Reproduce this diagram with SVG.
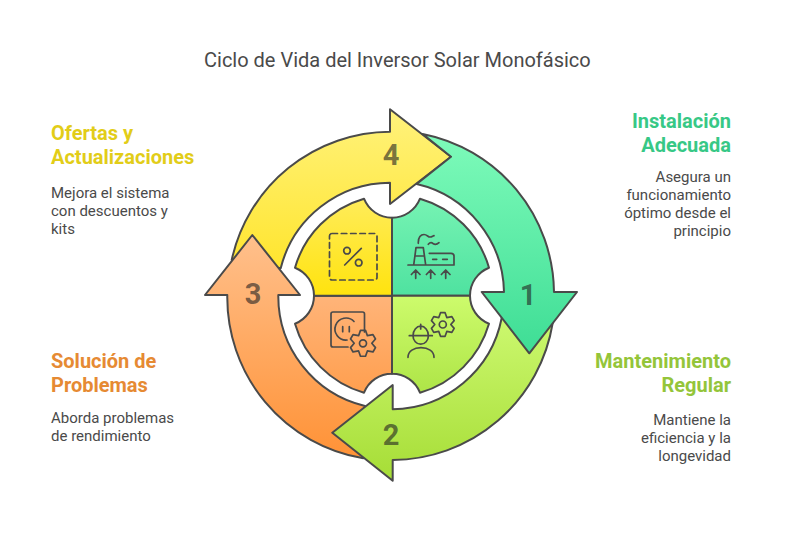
<svg xmlns="http://www.w3.org/2000/svg" width="794" height="542" viewBox="0 0 794 542">
<style>
text{font-family:Roboto,"Liberation Sans",sans-serif}
.title{font-size:20px;fill:#4a4a4a}
.h{font-size:20px;font-weight:700}
.b{font-size:15px;fill:#4a4a4a}
.e{text-anchor:end}
.n{font-size:29px;font-weight:700;fill:#222;fill-opacity:.62;text-anchor:middle}
.s{stroke:#4a4a4a;stroke-width:2;stroke-linejoin:round}
.i{fill:none;stroke:#4a4a4a;stroke-width:1.7;stroke-linecap:round;stroke-linejoin:round}
</style>
<defs>
<linearGradient id="a1" x1="0" y1="0" x2="0" y2="1"><stop offset="0" stop-color="#7efbba"/><stop offset="1" stop-color="#3edd95"/></linearGradient>
<linearGradient id="a2" x1="0" y1="0" x2="0" y2="1"><stop offset="0" stop-color="#ccf86f"/><stop offset="1" stop-color="#a6dd36"/></linearGradient>
<linearGradient id="a3" x1="0" y1="0" x2="0" y2="1"><stop offset="0" stop-color="#ffc08c"/><stop offset="1" stop-color="#ff9236"/></linearGradient>
<linearGradient id="a4" x1="0" y1="0" x2="0" y2="1"><stop offset="0" stop-color="#fff27c"/><stop offset="1" stop-color="#ffe52e"/></linearGradient>
<linearGradient id="q1" x1="0" y1="0" x2="0" y2="1"><stop offset="0" stop-color="#76f3b3"/><stop offset="1" stop-color="#4fe2a0"/></linearGradient>
<linearGradient id="q2" x1="0" y1="0" x2="0" y2="1"><stop offset="0" stop-color="#cdfb6c"/><stop offset="1" stop-color="#aee547"/></linearGradient>
<linearGradient id="q3" x1="0" y1="0" x2="0" y2="1"><stop offset="0" stop-color="#ffb479"/><stop offset="1" stop-color="#ff9f4f"/></linearGradient>
<linearGradient id="q4" x1="0" y1="0" x2="0" y2="1"><stop offset="0" stop-color="#ffec5a"/><stop offset="1" stop-color="#ffe30e"/></linearGradient>
<path id="gear" d="M-2.29,-11.78L2.29,-11.78L4,-6.93L9.06,-7.87L11.35,-3.91L8,0L11.35,3.91L9.06,7.87L4,6.93L2.29,11.78L-2.29,11.78L-4,6.93L-9.06,7.87L-11.35,3.91L-8,0L-11.35,-3.91L-9.06,-7.87L-4,-6.93Z"/>
</defs>
<text class="title" x="204" y="67">Ciclo de Vida del Inversor Solar Monofásico</text>
<g id="connectors">
<path id="arrow-4" class="s" fill="url(#a4)" d="M231.7,260A163,163 0 0 1 390,131.7V109.3L451,156.7L390,204V182.7A113,113 0 0 0 280.7,268.3Z"/>
<path id="arrow-3" class="s" fill="url(#a3)" d="M363.3,458.3A163,163 0 0 1 227.3,295H205L252.3,235L300,295H278.3A113,113 0 0 0 365,406Z"/>
<path id="arrow-2" class="s" fill="url(#a2)" d="M552.7,323A163,163 0 0 1 392.7,460V480.7L332.3,432.7L392.7,385V409.3A113,113 0 0 0 501.7,318Z"/>
<path id="arrow-1" class="s" fill="url(#a1)" d="M422.7,134A163,163 0 0 1 554,292H577L529.3,353.3L481.7,292H504A113,113 0 0 0 416.7,184L451,156.7Z"/>
</g>
<g id="node-1">
<path class="s" fill="url(#q1)" d="M392,295.7V217.7A30,30 0 0 0 420,198.7A101,101 0 0 1 489,267.7A30,30 0 0 0 470,295.7Z"/>
<path class="i" d="M408,265H453.3M413.7,265L416,247.7H423.3L425.7,265M415,256H424.5M429.3,253.3H451Q454,253.3 454,256V265M432.7,259.3H436.7M442.7,259.3H447.3M418.3,243.3C418,237 421,234.5 424,234.5C427,234.5 428,237 430,237C432,237 433,235.7 434,235.7M428.3,244.3C430,242.3 431.5,242.3 433,243.5C435,245 437,244.5 439,242.7M415.7,278.3V270M411.4,274.5L415.7,270L420,274.5M430.7,278.3V270M426.4,274.5L430.7,270L435,274.5M445.7,278.3V270M441.4,274.5L445.7,270L450,274.5"/>
<text class="n" x="528" y="305">1</text>
<text class="h e" x="731" y="128" fill="#37c886">Instalación</text>
<text class="h e" x="731" y="152" fill="#37c886">Adecuada</text>
<text class="b e" x="731" y="182">Asegura un</text>
<text class="b e" x="731" y="200">funcionamiento</text>
<text class="b e" x="731" y="218">óptimo desde el</text>
<text class="b e" x="731" y="236">principio</text>
</g>
<g id="node-2">
<path class="s" fill="url(#q2)" d="M392,295.7H470A30,30 0 0 0 489,323.7A101,101 0 0 1 420,392.7A30,30 0 0 0 392,373.7Z"/>
<path class="i" d="M409.3,335.7H432.3M413,335.7A7.7,9.5 0 0 1 428.4,335.7M413,335.7A7.7,8.5 0 0 0 428.4,335.7M420.7,324.3V329M408,357.3C408,351 414,347.7 421,347.7C428,347.7 434,351 434,357.3"/>
<use href="#gear" class="i" transform="translate(442.8,324.5)"/>
<circle class="i" cx="442.8" cy="324.5" r="3.5"/>
<text class="n" x="391" y="445">2</text>
<text class="h e" x="731" y="368" fill="#94c53a">Mantenimiento</text>
<text class="h e" x="731" y="392" fill="#94c53a">Regular</text>
<text class="b e" x="731" y="425">Mantiene la</text>
<text class="b e" x="731" y="443">eficiencia y la</text>
<text class="b e" x="731" y="461">longevidad</text>
</g>
<g id="node-3">
<path class="s" fill="url(#q3)" d="M392,295.7V373.7A30,30 0 0 0 364,392.7A101,101 0 0 1 295,323.7A30,30 0 0 0 314,295.7Z"/>
<path class="i" d="M348,347H333Q331,347 331,345V314Q331,312 333,312H362.5Q364.5,312 364.5,314V332M354,321.5A11,11 0 1 0 347,340M342.7,326.7V331.7M349.3,326.7V331.7"/>
<use href="#gear" class="i" transform="translate(363,343.3) scale(1.1)" style="stroke-width:1.55"/>
<circle class="i" cx="363" cy="343.3" r="3.5"/>
<text class="n" x="253" y="304">3</text>
<text class="h" x="51" y="368" fill="#e68a33">Solución de</text>
<text class="h" x="51" y="392" fill="#e68a33">Problemas</text>
<text class="b" x="51" y="423">Aborda problemas</text>
<text class="b" x="51" y="441">de rendimiento</text>
</g>
<g id="node-4">
<path class="s" fill="url(#q4)" d="M392,295.7V217.7A30,30 0 0 1 364,198.7A101,101 0 0 0 295,267.7A30,30 0 0 1 314,295.7Z"/>
<rect class="i" x="329.5" y="233.5" width="47.5" height="46.5" rx="2.5" stroke-dasharray="5.5 3.8"/>
<circle class="i" cx="347" cy="250.7" r="3.3"/>
<circle class="i" cx="358.7" cy="262.7" r="3.3"/>
<path class="i" d="M344.7,265L361.3,248.3"/>
<text class="n" x="391" y="165">4</text>
<text class="h" x="51" y="140" fill="#e2cd18">Ofertas y</text>
<text class="h" x="51" y="164" fill="#e2cd18">Actualizaciones</text>
<text class="b" x="51" y="198">Mejora el sistema</text>
<text class="b" x="51" y="216">con descuentos y</text>
<text class="b" x="51" y="234">kits</text>
</g>
</svg>
